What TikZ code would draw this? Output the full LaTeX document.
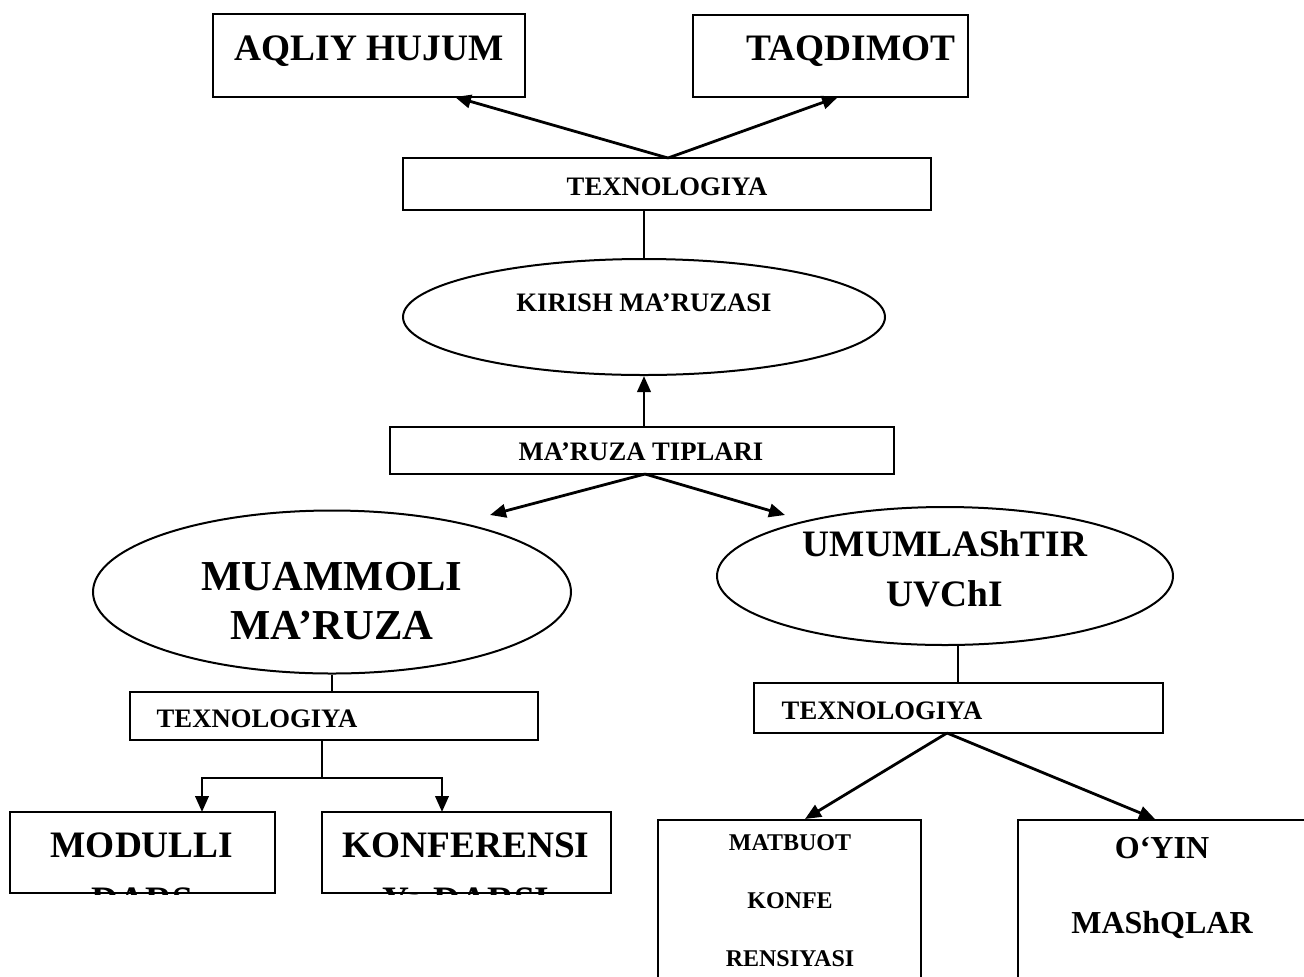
\documentclass[tikz,border=0pt]{standalone}
\usepackage{fontspec}
\setmainfont{Liberation Serif}
\usetikzlibrary{shapes.geometric,arrows.meta}

\begin{document}
\begin{tikzpicture}[x=0.75pt,y=-0.75pt,
    box/.style={draw,line width=1.6pt,inner sep=0pt},
    oval/.style={draw,ellipse,line width=1.5pt,inner sep=0pt},
    arr/.style={line width=2.1pt,-{Triangle[length=12pt,width=10pt]}},
    link/.style={line width=1.3pt},
    huge/.style={font=\fontsize{32}{36}\selectfont\bfseries},
    big/.style={font=\fontsize{28}{30}\selectfont\bfseries},
    mid/.style={font=\fontsize{24}{26}\selectfont\bfseries},
    small/.style={font=\fontsize{20}{22}\selectfont\bfseries},
    tiny/.style={font=\fontsize{18}{20}\selectfont\bfseries}]
    \useasboundingbox (0,0) rectangle (1304,976);
    \clip (0,0) rectangle (1304,976);

    % top row
    \node[box,minimum width=234pt,minimum height=62.25pt] (aqliy) at (369,55.5) {};
    \node[big,anchor=base] (aqliyt) at (369,60) {AQLIY HUJUM};
    \node[box,minimum width=206.25pt,minimum height=61.5pt] (taqdim) at (830.5,56) {};
    \node[big,anchor=base] (taqdimt) at (851,60) {TAQDIMOT};

    \node[box,minimum width=396pt,minimum height=39pt] (tex1) at (667,184) {};
    \node[small,anchor=base] (tex1t) at (667,195) {TEXNOLOGIYA};

    \node[oval,minimum width=361.5pt,minimum height=87pt] (kirish) at (644,317) {};
    \node[small,anchor=base] (kirisht) at (644,311) {KIRISH MA’RUZASI};

    \node[box,minimum width=378pt,minimum height=35.25pt] (tipl) at (642,450.5) {};
    \node[small,anchor=base] (tiplt) at (641,460) {MA’RUZA TIPLARI};

    % middle row
    \node[oval,minimum width=358.5pt,minimum height=122.25pt] (muamm) at (332,592) {};
    \node[huge,anchor=base] (muammt) at (332,590) {MUAMMOLI};
    \node[huge,anchor=base] (muammt2) at (332,639) {MA’RUZA};

    \node[oval,minimum width=342pt,minimum height=103.5pt] (umum) at (945,576) {};
    \node[big,anchor=base] (umumt) at (945,556) {UMUMLAShTIR};
    \node[big,anchor=base] (umumt2) at (945,606) {UVChI};

    \node[box,minimum width=306pt,minimum height=36pt] (tex2) at (334,716) {};
    \node[small,anchor=base west] (tex2t) at (152,727) {TEXNOLOGIYA};
    \node[box,minimum width=306.75pt,minimum height=37.5pt] (tex3) at (958.5,708) {};
    \node[small,anchor=base west] (tex3t) at (777,719) {TEXNOLOGIYA};

    % bottom row
    \node[box,minimum width=198.75pt,minimum height=60.75pt] (modul) at (142.5,852.5) {};
    \node[big,anchor=base] (modult) at (142,857) {MODULLI};
    \node[box,minimum width=216.75pt,minimum height=60.75pt] (konf) at (466.5,852.5) {};
    \node[big,anchor=base] (konft) at (466,857) {KONFERENSI};
    \begin{scope}
        \clip (modul.south west) rectangle (modul.north east)
              (konf.south west) rectangle (konf.north east);
        \node[big,anchor=base] (modult2) at (142,912) {DARS};
        \node[big,anchor=base] (konft2) at (466,912) {Ya DARSI};
    \end{scope}

    \node[box,minimum width=197.25pt,minimum height=135pt] (matb) at (789.5,910) {};
    \node[tiny,anchor=base] (matbt) at (790,850) {MATBUOT};
    \node[tiny,anchor=base] (matbt2) at (790,908) {KONFE};
    \node[tiny,anchor=base] (matbt3) at (790,966) {RENSIYASI};
    \node[box,minimum width=226.5pt,minimum height=135pt] (oyin) at (1169,910) {};
    \node[mid,anchor=base] (oyint) at (1162,858) {O‘YIN};
    \node[mid,anchor=base] (oyint2) at (1162,933) {MAShQLAR};

    % connectors
    \coordinate (tex1top) at (668,158);
    \draw[arr] (tex1top) -- (455,97);
    \draw[arr] (tex1top) -- (838,97);
    \draw[link] (kirish.north |- tex1.south) -- (kirish.north);
    \draw[arr] (kirish.south |- tipl.north) -- (kirish.south);
    \coordinate (tiplbot) at (645,474);
    \coordinate (muammtip) at (490,515);
    \coordinate (umumtip) at (785,515);
    \draw[arr] (tiplbot) -- (muammtip);
    \draw[arr] (tiplbot) -- (umumtip);

    \draw[link] (muamm.south) -- (muamm.south |- tex2.north);
    \coordinate (split) at (322,778);
    \draw[link] (split |- tex2.south) -- (split);
    \draw[arr] (split) -| (202,812);
    \draw[arr] (split) -| (442,812);

    \draw[link] (958,646) -- (958,682);
    \coordinate (tex3bot) at (947,733);
    \draw[arr] (tex3bot) -- (805,819);
    \draw[arr] (tex3bot) -- (1155,819);
\end{tikzpicture}
\end{document}
